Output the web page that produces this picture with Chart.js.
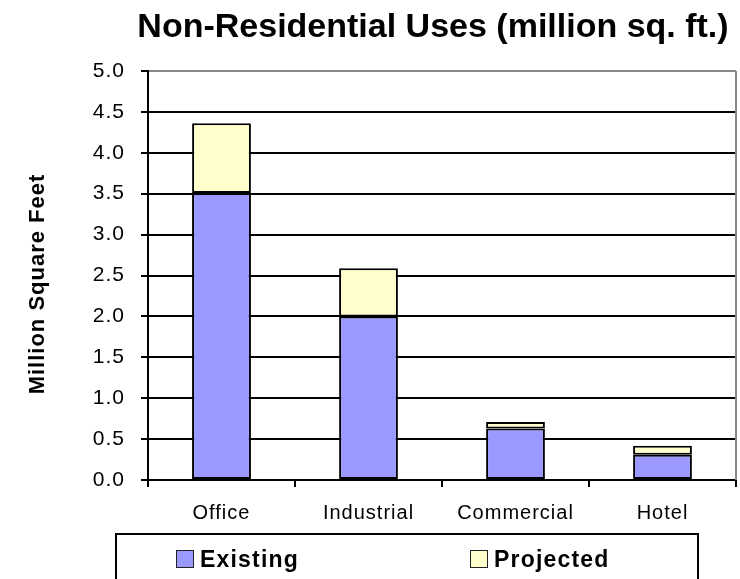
<!DOCTYPE html>
<html>
<head>
<meta charset="utf-8">
<script src="https://cdn.jsdelivr.net/npm/chart.js@4/dist/chart.umd.min.js"></script>
<style>
  body { margin: 0; background: #fff; }
  #wrap { position: relative; width: 740px; height: 579px; overflow: hidden; }
  #legend {
    position: absolute; left: 115px; top: 533px; width: 584px; height: 60px;
    border: 2px solid #000; box-sizing: border-box;
    font: bold 23px "Liberation Sans", Arial, sans-serif; letter-spacing: 1.2px;
  }
  #legend span.item { position: absolute; top: 11px; white-space: nowrap; }
  #legend i {
    display: inline-block; width: 16px; height: 16px; border: 1px solid #222;
    vertical-align: -1px; margin-right: 6px;
  }
</style>
</head>
<body>
<div id="wrap">
  <canvas id="chart" width="740" height="579"></canvas>
  <div id="legend"></div>
</div>
<script>
var categories = ["Office", "Industrial", "Commercial", "Hotel"];
var existing = [3.51, 2.0, 0.63, 0.31];
var projected = [0.85, 0.59, 0.08, 0.11];
var yTicks = [0, 0.5, 1, 1.5, 2, 2.5, 3, 3.5, 4, 4.5, 5];

var FONT = '"Liberation Sans", Arial, sans-serif';

// title and rotated axis title, plus the grey frame on the right
var textPlugin = {
  id: 'text',
  beforeLayout: function(chart) {
    chart.ctx.letterSpacing = '1px';
  },
  afterDraw: function(chart) {
    var ctx = chart.ctx;
    var a = chart.chartArea;
    ctx.save();
    ctx.strokeStyle = '#888';
    ctx.lineWidth = 2;
    ctx.beginPath();
    ctx.moveTo(a.right, a.top);
    ctx.lineTo(a.right, a.bottom);
    ctx.stroke();

    ctx.fillStyle = '#000';
    ctx.textAlign = 'center';
    ctx.textBaseline = 'alphabetic';
    ctx.letterSpacing = '0px';
    ctx.font = 'bold 34px ' + FONT;
    ctx.fillText('Non-Residential Uses (million sq. ft.)', 433, 37);

    ctx.translate(38, 284);
    ctx.rotate(-Math.PI / 2);
    ctx.textBaseline = 'middle';
    ctx.letterSpacing = '1px';
    ctx.font = 'bold 22px ' + FONT;
    ctx.fillText('Million Square Feet', 0, 0);
    ctx.restore();
  }
};

var chart = new Chart(document.getElementById('chart'), {
  type: 'bar',
  data: {
    labels: categories,
    datasets: [
      {
        label: 'Existing',
        data: existing,
        backgroundColor: '#9999FF',
        borderColor: '#000',
        borderWidth: 2,
        borderSkipped: false
      },
      {
        label: 'Projected',
        data: projected,
        backgroundColor: '#FFFFCC',
        borderColor: '#000',
        borderWidth: 2,
        borderSkipped: false
      }
    ]
  },
  options: {
    responsive: false,
    animation: false,
    layout: { padding: { top: 71, right: 4, left: 0, bottom: 0 } },
    datasets: { bar: { categoryPercentage: 1, barPercentage: 0.4 } },
    plugins: {
      legend: { display: false },
      title: { display: false },
      tooltip: { enabled: false }
    },
    scales: {
      x: {
        stacked: true,
        afterFit: function(s) { s.height = 99; },
        grid: { offset: true, drawOnChartArea: false, tickLength: 7, color: '#000', lineWidth: 2 },
        border: { color: '#000', width: 2 },
        ticks: { color: '#000', padding: 14, font: { family: FONT, size: 20 } }
      },
      y: {
        stacked: true,
        min: 0,
        max: 5,
        afterFit: function(s) { s.width = 148; },
        afterBuildTicks: function(s) {
          s.ticks = yTicks.map(function(v) { return { value: v }; });
        },
        grid: {
          color: function(c) { return c.tick && c.tick.value === 5 ? '#888' : '#000'; },
          lineWidth: 2,
          tickLength: 7,
          tickColor: '#000'
        },
        border: { color: '#000', width: 2 },
        ticks: {
          color: '#000',
          padding: 16,
          font: { family: FONT, size: 21 },
          callback: function(v) { return Number(v).toFixed(1); }
        }
      }
    }
  },
  plugins: [textPlugin]
});

// legend entries take their swatch colours from the datasets
var legend = document.getElementById('legend');
var lefts = [59, 353];
chart.data.datasets.forEach(function(ds, i) {
  var item = document.createElement('span');
  item.className = 'item';
  item.style.left = lefts[i] + 'px';
  item.innerHTML = '<i style="background:' + ds.backgroundColor + '"></i>' + ds.label;
  legend.appendChild(item);
});
</script>
</body>
</html>
